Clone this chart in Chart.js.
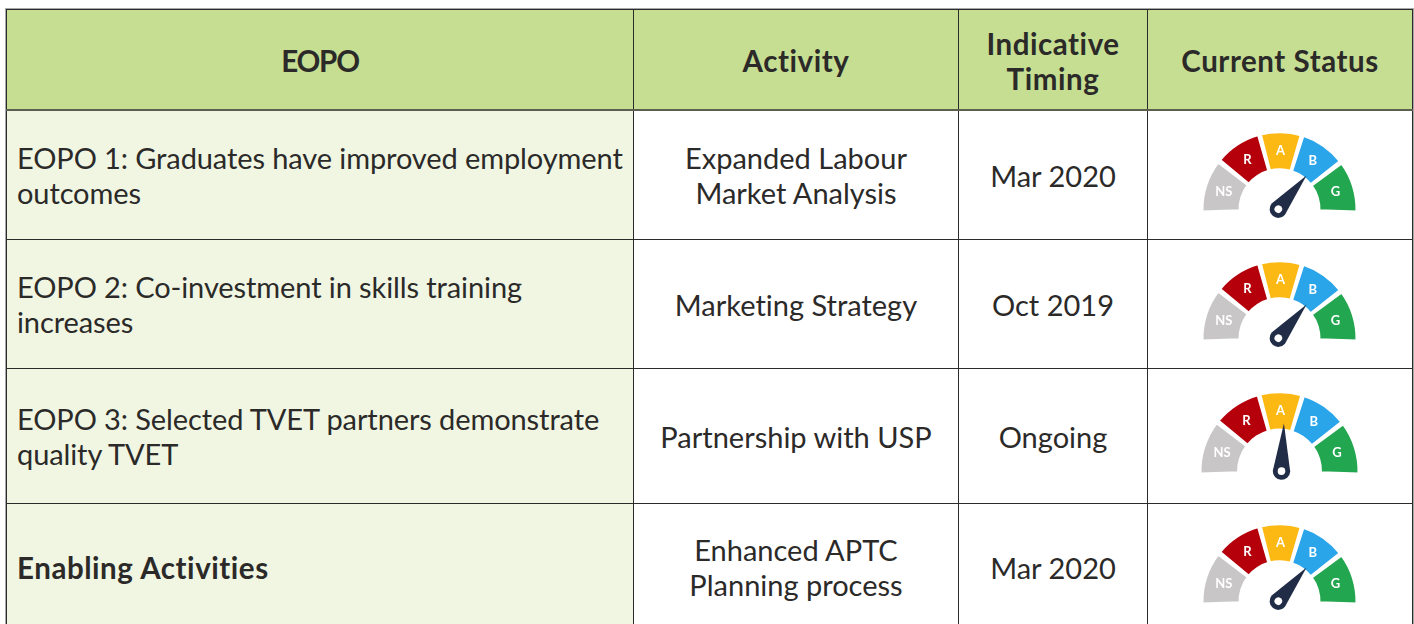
<!DOCTYPE html>
<html>
<head>
<meta charset="utf-8">
<title>EOPO status</title>
<script src="https://cdn.jsdelivr.net/npm/chart.js@4"></script>
<style>
  html, body { margin: 0; padding: 0; background: #fff; width: 1414px; height: 624px; overflow: hidden; }
  body { position: relative; font-family: Lato, sans-serif; color: #2b2a29; font-variant-ligatures: none; }
  table { position: absolute; left: 6px; top: 9px; width: 1406px; table-layout: fixed; border-collapse: collapse; box-shadow: 0 0 0 1px #a8a8a8; }
  th, td { border: 1px solid #2b2b2b; text-align: center; padding: 0; font-size: 29px; line-height: 35px; font-weight: 400; }
  th { background: #c6de92; font-size: 29.5px; font-weight: 700; letter-spacing: 0.55px; border-bottom: 2px solid #5c5f50; height: 97px; padding-top: 2px; }
  th:first-child { letter-spacing: -1.2px; }
  td { background: #fff; }
  td.eopo { background: #f1f6e3; text-align: left; padding-left: 10px; white-space: nowrap; letter-spacing: -0.1px; }
  td.strong { font-size: 29.5px; font-weight: 700; letter-spacing: 0.55px; }
  tr.r1 td, tr.r2 td { height: 128px; }
  tr.r3 td { height: 134px; }
  tr.r4 td { height: 126px; }
  .gauge { position: absolute; left: 1189px; }
  #gauge0 { top: 122px; }
  #gauge1 { top: 251px; }
  #gauge2 { top: 383px; }
  #gauge3 { top: 514px; }
</style>
</head>
<body>
<table id="statusTable">
  <colgroup><col style="width:627px"><col style="width:325px"><col style="width:189px"><col style="width:265px"></colgroup>
  <thead><tr id="headRow"></tr></thead>
  <tbody id="rows"></tbody>
</table>
<canvas class="gauge" id="gauge0" width="180" height="120"></canvas>
<canvas class="gauge" id="gauge1" width="180" height="120"></canvas>
<canvas class="gauge" id="gauge2" width="180" height="120"></canvas>
<canvas class="gauge" id="gauge3" width="180" height="120"></canvas>
<script>
const headers = ["EOPO", "Activity", "Indicative<br>Timing", "Current Status"];
const eopos = [
  "EOPO 1: Graduates have improved employment<br>outcomes",
  "EOPO 2: Co-investment in skills training<br>increases",
  "EOPO 3: Selected TVET partners demonstrate<br>quality TVET",
  "Enabling Activities",
];
const activities = [
  "Expanded Labour<br>Market Analysis",
  "Marketing Strategy",
  "Partnership with USP",
  "Enhanced APTC<br>Planning process",
];
const timings = ["Mar 2020", "Oct 2019", "Ongoing", "Mar 2020"];

const statusLabels = ["NS", "R", "A", "B", "G"];
const statusBands = [41.5, 36.5, 32, 35.5, 40.5];
const statusColors = ["#c8c6c7", "#b5000c", "#fdb913", "#2aa5ea", "#22a64f"];
const needleValues = [132.9, 132.9, 95.9, 132.9];

document.getElementById("headRow").innerHTML = headers.map((h) => `<th>${h}</th>`).join("");
document.getElementById("rows").innerHTML = eopos.map((eopo, i) => `
  <tr class="r${i + 1}">
    <td class="eopo${i === 3 ? " strong" : ""}">${eopo}</td>
    <td>${activities[i]}</td>
    <td>${timings[i]}</td>
    <td></td>
  </tr>`).join("");

// band letters and the needle sit on top of the doughnut arcs
const gaugeOverlay = {
  id: "gaugeOverlay",
  afterDraw(chart, args, opts) {
    const { ctx } = chart;
    const arcs = chart.getDatasetMeta(0).data;
    ctx.save();
    ctx.fillStyle = "#fff";
    ctx.font = "700 13px Lato";
    ctx.textAlign = "center";
    ctx.textBaseline = "middle";
    arcs.forEach((arc, i) => {
      const p = arc.getCenterPoint();
      ctx.fillText(statusLabels[i], p.x, p.y);
    });

    const total = statusBands.reduce((a, b) => a + b, 0);
    const start = arcs[0].startAngle;
    const end = arcs[arcs.length - 1].endAngle;
    const angle = start + (opts.value / total) * (end - start);

    ctx.translate(arcs[0].x + opts.hubX, arcs[0].y);
    ctx.rotate(angle);
    ctx.fillStyle = "#212d47";
    ctx.beginPath();
    ctx.moveTo(opts.length, 0);
    ctx.lineTo(0, -8.7);
    ctx.arc(0, 0, 8.7, -Math.PI / 2, Math.PI / 2, true);
    ctx.closePath();
    ctx.fill();
    ctx.fillStyle = "#fff";
    ctx.beginPath();
    ctx.arc(0, 0, 3.8, 0, Math.PI * 2);
    ctx.fill();
    ctx.restore();
  },
};

needleValues.forEach((value, i) => {
  const big = i === 2;
  new Chart(document.getElementById(`gauge${i}`), {
    type: "doughnut",
    data: {
      labels: statusLabels,
      datasets: [{
        data: statusBands,
        backgroundColor: statusColors,
        borderColor: "#fff",
        borderWidth: 2.5,
        spacing: 6,
      }],
    },
    options: {
      responsive: false,
      animation: false,
      rotation: -93,
      circumference: 186,
      radius: big ? 76.25 : 74.25,
      cutout: big ? "50.2%" : "49.5%",
      layout: { padding: { left: 1, bottom: 16 } },
      plugins: {
        legend: { display: false },
        tooltip: { enabled: false },
        gaugeOverlay: { value, length: big ? 48 : 44, hubX: big ? 2 : -1.2 },
      },
    },
    plugins: [gaugeOverlay],
  });
});
</script>
</body>
</html>
